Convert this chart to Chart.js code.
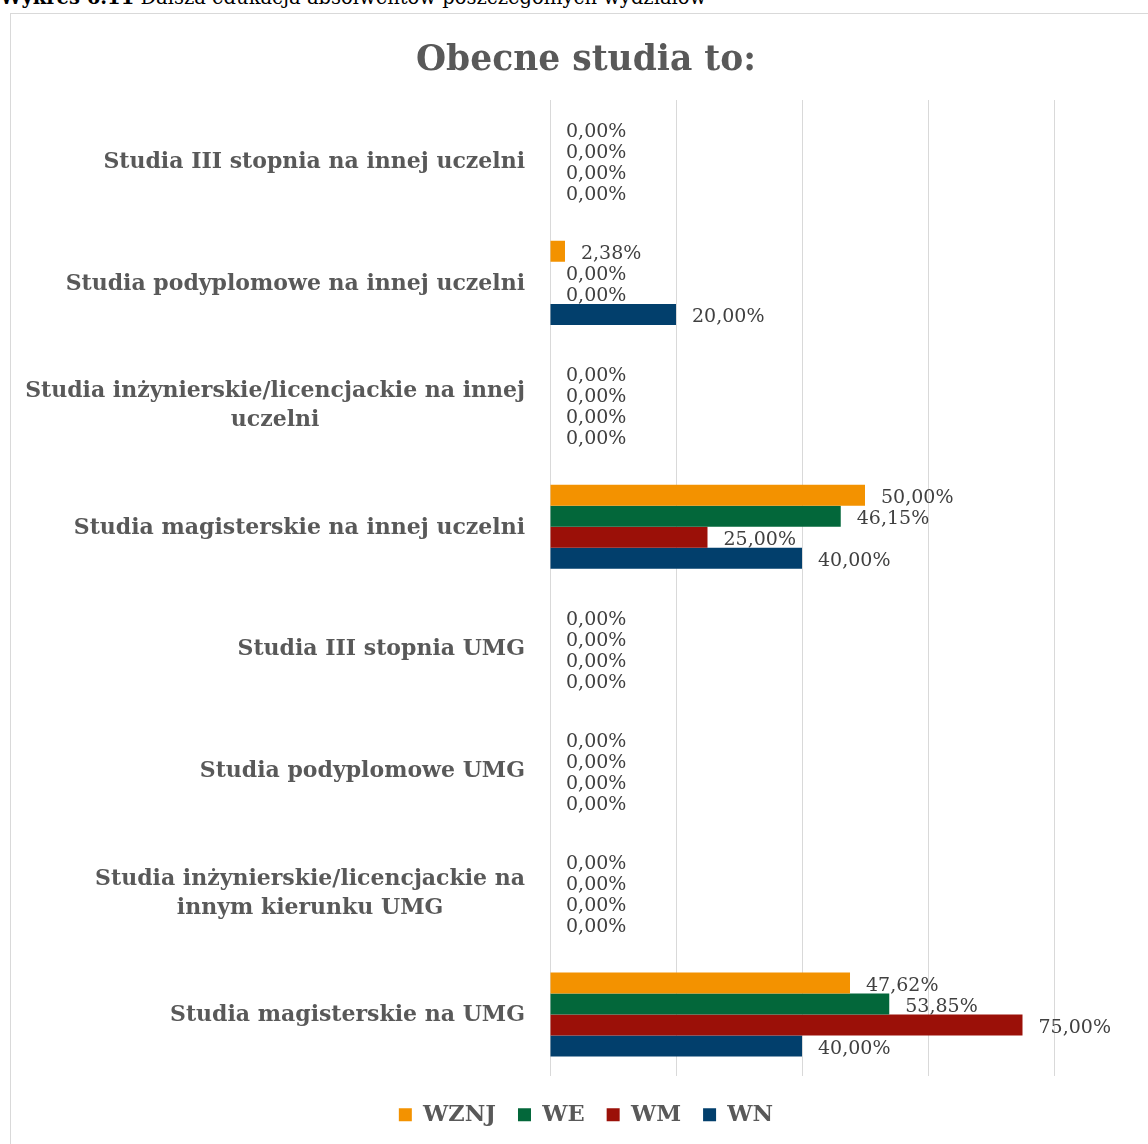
<!DOCTYPE html>
<html lang="pl">
<head>
<meta charset="utf-8">
<title>Obecne studia to:</title>
<script src="https://cdn.jsdelivr.net/npm/chart.js@4"></script>
<style>
    html, body { margin: 0; padding: 0; background: #fff; overflow: hidden; width: 1148px; height: 1144px; }
    #caption {
        position: absolute; left: 0; top: -12px;
        font: 19.5px "DejaVu Serif", serif; color: #000; white-space: nowrap; line-height: 20px;
    }
    #frame {
        position: absolute; left: 10px; top: 13px;
        width: 1150px; height: 1140px;
        border: 1px solid #d9d9d9;
    }
</style>
</head>
<body>
<div id="caption"><b>Wykres 6.11</b> Dalsza edukacja absolwentów poszczególnych wydziałów</div>
<div id="frame"><canvas id="chart" width="1150" height="1140"></canvas></div>
<script>
const categories = [
    'Studia III stopnia na innej uczelni',
    'Studia podyplomowe na innej uczelni',
    ['Studia inżynierskie/licencjackie na innej', 'uczelni'],
    'Studia magisterskie na innej uczelni',
    'Studia III stopnia UMG',
    'Studia podyplomowe UMG',
    ['Studia inżynierskie/licencjackie na', 'innym kierunku UMG'],
    'Studia magisterskie na UMG'
];

// values in %
const wznj = [0, 2.38, 0, 50.00, 0, 0, 0, 47.62];
const we   = [0, 0, 0, 46.15, 0, 0, 0, 53.85];
const wm   = [0, 0, 0, 25.00, 0, 0, 0, 75.00];
const wn   = [0, 20.00, 0, 40.00, 0, 0, 0, 40.00];

const xTicks = [0, 20, 40, 60, 80];

const serif = '"DejaVu Serif", serif';

// category labels next to the y scale (lines centered, block right-aligned)
const categoryLabels = {
    id: 'categoryLabels',
    afterDraw(chart) {
        const ctx = chart.ctx;
        const yScale = chart.scales.y;
        ctx.save();
        ctx.font = 'bold 22px ' + serif;
        ctx.fillStyle = '#595959';
        ctx.textAlign = 'center';
        ctx.textBaseline = 'middle';
        const right = 514;
        const lineH = 29;
        yScale.ticks.forEach((t, i) => {
            const y = yScale.getPixelForTick(i);
            let lines = chart.data.labels[i];
            if (!Array.isArray(lines)) lines = [lines];
            const w = Math.max(...lines.map(l => ctx.measureText(l).width));
            const cx = right - w / 2;
            lines.forEach((l, k) => {
                ctx.fillText(l, cx, y + 1 + (k - (lines.length - 1) / 2) * lineH);
            });
        });
        ctx.restore();
    }
};

// value labels at the end of each bar
const valueLabels = {
    id: 'valueLabels',
    afterDatasetsDraw(chart) {
        const ctx = chart.ctx;
        ctx.save();
        ctx.font = '19px ' + serif;
        ctx.fillStyle = '#404040';
        ctx.textAlign = 'left';
        ctx.textBaseline = 'middle';
        chart.data.datasets.forEach((ds, di) => {
            const meta = chart.getDatasetMeta(di);
            meta.data.forEach((bar, i) => {
                const txt = ds.data[i].toFixed(2).replace('.', ',') + '%';
                ctx.fillText(txt, bar.x + 16, bar.y + 3);
            });
        });
        ctx.restore();
    }
};

const ctx = document.getElementById('chart').getContext('2d');

new Chart(ctx, {
    type: 'bar',
    data: {
        labels: categories,
        datasets: [
            { label: 'WZNJ', data: wznj, backgroundColor: '#F39200' },
            { label: 'WE', data: we, backgroundColor: '#03673A' },
            { label: 'WM', data: wm, backgroundColor: '#9B1008' },
            { label: 'WN', data: wn, backgroundColor: '#023F6C' }
        ]
    },
    options: {
        indexAxis: 'y',
        responsive: false,
        devicePixelRatio: 1,
        animation: false,
        datasets: {
            bar: { categoryPercentage: 0.69, barPercentage: 1.0 }
        },
        layout: {
            padding: { left: 0, right: 0, top: 0, bottom: 18 }
        },
        scales: {
            x: {
                min: xTicks[0],
                max: xTicks[xTicks.length - 1],
                afterBuildTicks: (scale) => { scale.ticks = xTicks.map(v => ({ value: v })); },
                afterFit: (scale) => { scale.height = 6; },
                ticks: { display: false },
                grid: { color: '#d9d9d9', lineWidth: 1, drawTicks: false },
                border: { display: false }
            },
            y: {
                afterFit: (scale) => { scale.width = 539; },
                ticks: { display: false },
                grid: { display: false, drawTicks: false },
                border: { display: false }
            },
            yRight: {
                type: 'linear',
                position: 'right',
                afterFit: (scale) => { scale.width = 107; },
                ticks: { display: false },
                grid: { display: false, drawTicks: false },
                border: { display: false }
            }
        },
        plugins: {
            title: {
                display: true,
                text: 'Obecne studia to:',
                color: '#595959',
                font: { family: serif, size: 34.5, weight: 'bold' },
                padding: { top: 26, bottom: 18.6 }
            },
            legend: {
                position: 'bottom',
                labels: {
                    color: '#595959',
                    font: { family: serif, size: 22.5, weight: 'bold' },
                    boxWidth: 13,
                    boxHeight: 13,
                    padding: 22
                }
            },
            tooltip: { enabled: false }
        }
    },
    plugins: [categoryLabels, valueLabels]
});
</script>
</body>
</html>
